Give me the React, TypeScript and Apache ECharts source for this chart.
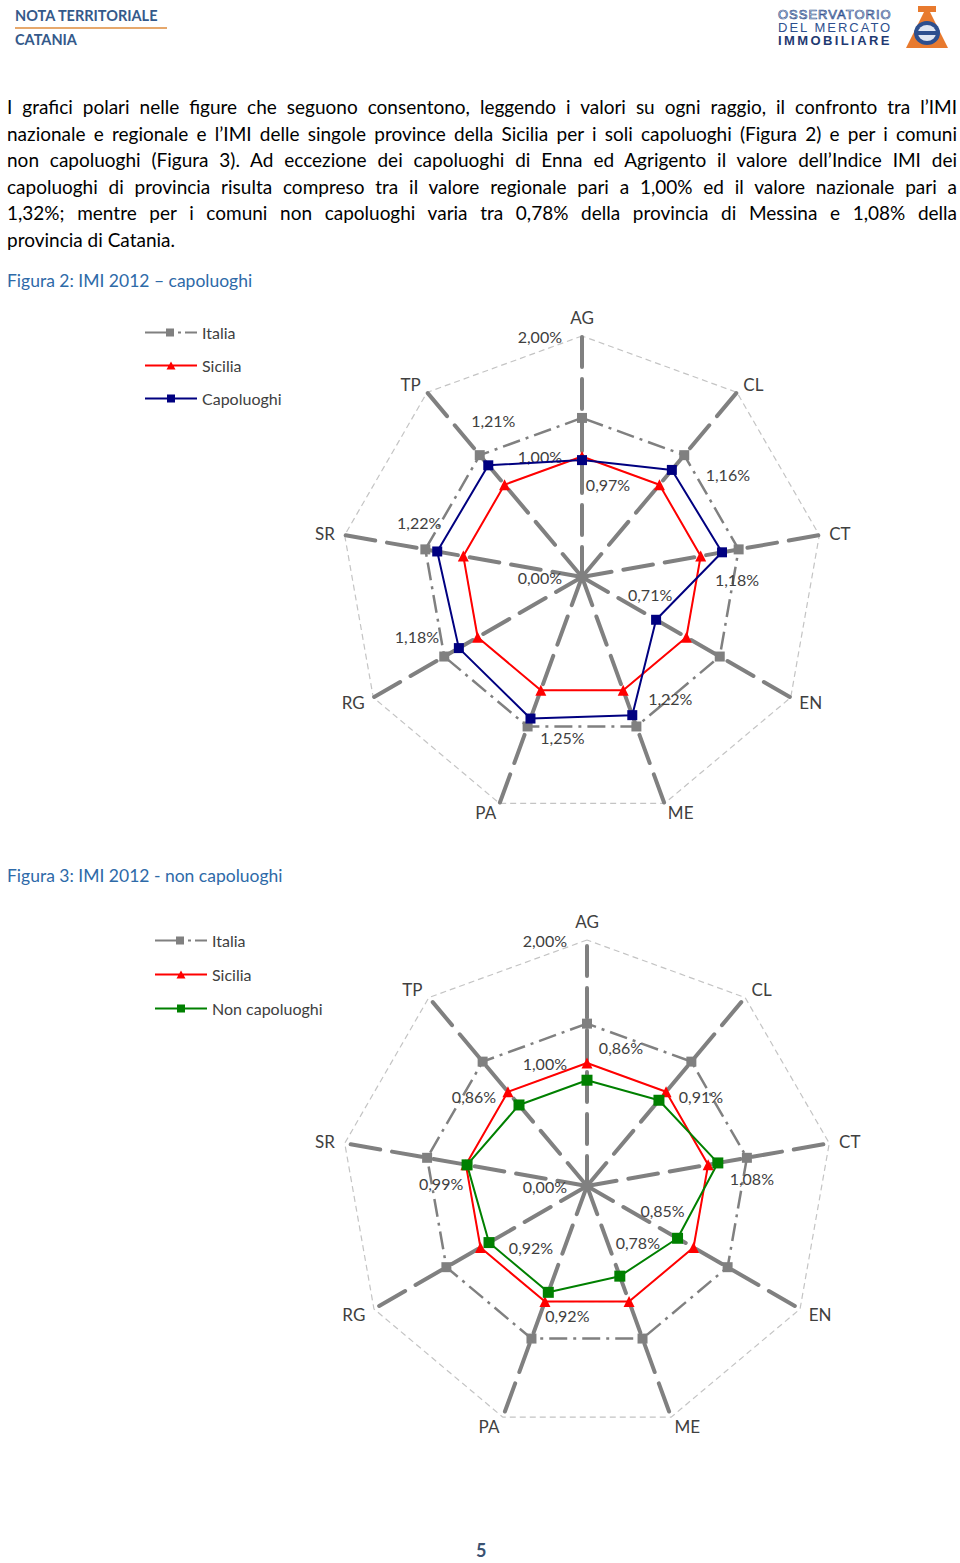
import React, { useEffect, useRef } from "react";
import * as echarts from "echarts";

// ---- data (radar order: AG at top, then clockwise on screen) ----
const PROVINCES = ["AG", "TP", "SR", "RG", "PA", "ME", "EN", "CT", "CL"];
const AXIS_MIN = 0;
const AXIS_MAX = 2;
const ITALIA = [1.32, 1.32, 1.32, 1.32, 1.32, 1.32, 1.32, 1.32, 1.32];
const SICILIA = [1.0, 1.0, 1.0, 1.0, 1.0, 1.0, 1.0, 1.0, 1.0];
const CAPOLUOGHI = [0.97, 1.21, 1.22, 1.18, 1.25, 1.22, 0.71, 1.18, 1.16];
const NON_CAPOLUOGHI = [0.86, 0.86, 0.99, 0.92, 0.92, 0.78, 0.85, 1.08, 0.91];
const NAMES_1 = ["Italia", "Sicilia", "Capoluoghi"];
const NAMES_2 = ["Italia", "Sicilia", "Non capoluoghi"];

// ---- styles ----
const FONT = "Lato, 'Noto Sans', sans-serif";
const TXT = "#404040";
const C_ITALIA = "#808080";
const C_SICILIA = "#ff0000";
const C_CAPO = "#000080";
const C_NONCAPO = "#008000";
const LABEL_OFFSETS_1 = [[26, 24], [5, -45], [-18, -29], [-42, -12], [32, 19], [38, -17], [-6, -25], [15, 27], [56, 5]];
const LABEL_OFFSETS_2 = [[34, -33], [-45, -8], [-26, 19], [42, 5], [19, 23], [18, -34], [-15, -28], [34, 16], [42, -4]];

const ICON_ITALIA = "path://M0,4h22v2h-22z M21,1h8v8h-8z M33,4h3v2h-3z M40,4h12v2h-12z";
const ICON_SICILIA = "path://M0,4h52v2h-52z M26,1l4.5,8h-9z";
const ICON_SQUARE = "path://M0,4h52v2h-52z M22,1h8v8h-8z";

const fmt = (v: number) => v.toFixed(2).replace(".", ",") + "%";

function radarCfg(center: number[], radius: number) {
  return {
    center,
    radius,
    shape: "polygon",
    startAngle: 90,
    splitNumber: 2,
    indicator: PROVINCES.map((p, i) => ({
      name: p,
      min: AXIS_MIN,
      max: AXIS_MAX,
      axisLabel:
        i === 0
          ? { show: true, margin: 20, color: TXT, fontSize: 16, fontFamily: FONT, formatter: (v: number) => fmt(v) }
          : { show: false },
    })),
    axisName: { color: TXT, fontSize: 17, fontFamily: FONT },
    nameGap: 10,
    splitLine: { lineStyle: { color: "#c4c4c4", width: 1.2, type: [6, 4] } },
    splitArea: { show: false },
    axisLine: { lineStyle: { color: "#808080", width: 4, type: [30, 12] } },
    axisTick: { show: false },
    axisLabel: { show: false },
  };
}

function mainSeries(radarIndex: number, name: string, values: number[], color: string, symbol: string, size: number, lineType: any, width: number) {
  return {
    type: "radar",
    name,
    radarIndex,
    silent: true,
    symbol,
    symbolSize: size,
    itemStyle: { color },
    lineStyle: { color, width, type: lineType },
    label: { show: false },
    data: [{ name, value: values }],
  };
}

function labelSeries(radarIndex: number, values: number[], offsets: number[][]) {
  return {
    type: "radar",
    name: "labels" + radarIndex,
    radarIndex,
    silent: true,
    symbol: "circle",
    symbolSize: 1,
    itemStyle: { color: "rgba(0,0,0,0)" },
    lineStyle: { width: 0, opacity: 0 },
    z: 5,
    data: values.map((_, i) => ({
      name: "lbl" + radarIndex + "_" + i,
      value: values,
      label: {
        show: true,
        position: "inside",
        offset: offsets[i],
        color: TXT,
        fontSize: 16,
        fontFamily: FONT,
        formatter: (p: any) => (p.dimensionIndex === i ? fmt(values[i]) : ""),
      },
    })),
  };
}

function legendCfg(left: number, top: number, gap: number, names: string[], third: string) {
  return {
    orient: "vertical",
    left,
    top,
    padding: 0,
    itemWidth: 52,
    itemHeight: 8,
    itemGap: gap,
    selectedMode: false,
    textStyle: { color: TXT, fontSize: 16, fontFamily: FONT, lineHeight: 17 },
    data: [
      { name: names[0], icon: ICON_ITALIA, itemStyle: { color: C_ITALIA } },
      { name: names[1], icon: ICON_SICILIA, itemStyle: { color: C_SICILIA } },
      { name: names[2], icon: ICON_SQUARE, itemStyle: { color: third } },
    ],
  };
}

function Charts() {
  const ref = useRef<HTMLDivElement>(null);
  useEffect(() => {
    if (!ref.current) return;
    const chart = echarts.init(ref.current, undefined, { renderer: "svg" });
    chart.setOption({
      animation: false,
      backgroundColor: "transparent",
      textStyle: { fontFamily: FONT },
      legend: [legendCfg(145, 324, 16, NAMES_1, C_CAPO), legendCfg(155, 932, 17, NAMES_2, C_NONCAPO)],
      radar: [radarCfg([582, 577], 241), radarCfg([587, 1186], 246)],
      series: [
        mainSeries(0, NAMES_1[0], ITALIA, C_ITALIA, "rect", 10, [18, 6, 3, 6], 2.5),
        mainSeries(0, NAMES_1[1], SICILIA, C_SICILIA, "triangle", 11, "solid", 2),
        mainSeries(0, NAMES_1[2], CAPOLUOGHI, C_CAPO, "rect", 10, "solid", 2),
        labelSeries(0, CAPOLUOGHI, LABEL_OFFSETS_1),
        mainSeries(1, NAMES_2[0], ITALIA, C_ITALIA, "rect", 10, [18, 6, 3, 6], 2.5),
        mainSeries(1, NAMES_2[1], SICILIA, C_SICILIA, "triangle", 11, "solid", 2),
        mainSeries(1, NAMES_2[2], NON_CAPOLUOGHI, C_NONCAPO, "rect", 11, "solid", 2),
        labelSeries(1, NON_CAPOLUOGHI, LABEL_OFFSETS_2),
      ],
    });
    return () => chart.dispose();
  }, []);
  return <div ref={ref} style={{ position: "absolute", left: 0, top: 0, width: 960, height: 1563 }} />;
}

const PARAGRAPH_LINES = [
  "I grafici polari nelle figure che seguono consentono, leggendo i valori su ogni raggio, il confronto tra l’IMI",
  "nazionale e regionale e l’IMI delle singole province della Sicilia per i soli capoluoghi (Figura 2) e per i comuni",
  "non capoluoghi (Figura 3). Ad eccezione dei capoluoghi di Enna ed Agrigento il valore dell’Indice IMI dei",
  "capoluoghi di provincia risulta compreso tra il valore regionale pari a 1,00% ed il valore nazionale pari a",
  "1,32%; mentre per i comuni non capoluoghi varia tra 0,78% della provincia di Messina e 1,08% della",
  "provincia di Catania.",
];

const LOGO_FONT = "'Liberation Sans', Arial, sans-serif";

export default function App() {
  const headerStyle: React.CSSProperties = {
    position: "absolute",
    left: 15,
    fontFamily: FONT,
    fontWeight: 700,
    fontSize: 14.5,
    color: "#34598a",
    whiteSpace: "nowrap",
    zIndex: 2,
  };
  const logoLine: React.CSSProperties = {
    position: "absolute",
    left: 778,
    fontFamily: LOGO_FONT,
    fontSize: 13,
    lineHeight: "13px",
    height: 13,
    whiteSpace: "nowrap",
    zIndex: 2,
  };
  return (
    <div style={{ position: "absolute", left: 0, top: 0, width: 960, height: 1563, background: "#fff", overflow: "hidden" }}>
      <Charts />
      <div style={{ ...headerStyle, top: 7 }}>NOTA TERRITORIALE</div>
      <div style={{ position: "absolute", left: 15, top: 27, width: 152, height: 2, background: "#e6a86c", zIndex: 2 }} />
      <div style={{ ...headerStyle, top: 31 }}>CATANIA</div>

      {/* logo */}
      <div style={{ ...logoLine, top: 8, color: "#fff", WebkitTextStroke: "0.7px #2d4f8e", letterSpacing: 1 }}>OSSERVATORIO</div>
      <div style={{ ...logoLine, top: 21, color: "#2d4f8e", letterSpacing: 2 }}>DEL MERCATO</div>
      <div style={{ ...logoLine, top: 34, color: "#1f3a72", fontWeight: 700, letterSpacing: 2.4 }}>IMMOBILIARE</div>
      <svg style={{ position: "absolute", left: 902, top: 6, zIndex: 2 }} width={50} height={44} viewBox="0 0 50 44">
        <polygon points="16,0 34,0 34,6 28,6 46,42 4,42 22,6 16,6" fill="#e87a2e" />
        <ellipse cx={25} cy={27} rx={13} ry={12} fill="#2d4f8e" />
        <ellipse cx={25} cy={27} rx={9} ry={8} fill="#dfe6f2" />
        <rect x={15} y={25} width={20} height={4} fill="#2d4f8e" />
      </svg>

      {/* paragraph */}
      <div
        style={{
          position: "absolute",
          left: 7,
          top: 94,
          width: 950,
          fontFamily: FONT,
          fontSize: 19,
          lineHeight: "26.6px",
          color: "#000",
          zIndex: 2,
        }}
      >
        {PARAGRAPH_LINES.map((l, i) => (
          <div
            key={i}
            style={{
              textAlign: i === PARAGRAPH_LINES.length - 1 ? "left" : "justify",
              textAlignLast: i === PARAGRAPH_LINES.length - 1 ? "left" : "justify",
              whiteSpace: "nowrap",
            }}
          >
            {l}
          </div>
        ))}
      </div>

      <div style={{ position: "absolute", left: 7, top: 270, fontFamily: FONT, fontSize: 17.5, color: "#2e6aa8", zIndex: 2 }}>
        Figura 2: IMI 2012 – capoluoghi
      </div>
      <div style={{ position: "absolute", left: 7, top: 865, fontFamily: FONT, fontSize: 17.5, color: "#2e6aa8", zIndex: 2 }}>
        Figura 3: IMI 2012 - non capoluoghi
      </div>
      <div
        style={{
          position: "absolute",
          left: 476,
          top: 1539,
          fontFamily: FONT,
          fontWeight: 700,
          fontSize: 18,
          color: "#3a5272",
          zIndex: 2,
        }}
      >
        5
      </div>
    </div>
  );
}
